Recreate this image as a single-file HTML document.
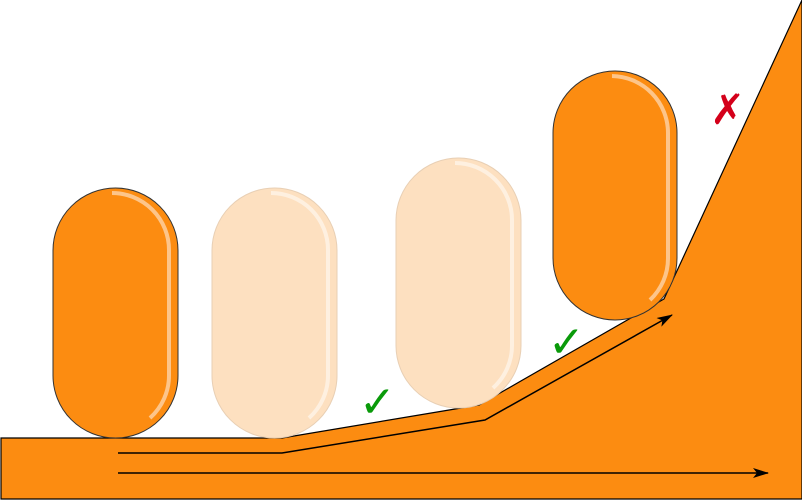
<!DOCTYPE html>
<html><head><meta charset="utf-8"><style>html,body{margin:0;padding:0;background:#fff}svg{display:block}</style></head>
<body>
<svg width="802" height="500" viewBox="0 0 802 500">
<defs>
<marker id="ah" markerWidth="16" markerHeight="10" refX="15" refY="5" orient="auto" markerUnits="userSpaceOnUse" viewBox="0 0 16 10">
<path d="M0,0 L16,5 L0,10 L4,5 Z" fill="#000"/></marker>
</defs>
<path d="M1,438 L282,438 L479,405 L664,299 L802,0 L802,499 L1,499 Z" fill="#fc8c11" stroke="#000" stroke-width="1.2"/>
<g>
<rect x="53" y="188" width="125" height="250" rx="62.5" fill="#fc8c11" stroke="#333" stroke-width="1"/>
<path d="M112,193 A57,57 0 0 1 169,250 L169,375 A57,57 0 0 1 150,418" fill="none" stroke="#fdc58a" stroke-width="4"/>
</g>
<g>
<rect x="212" y="188" width="125" height="250" rx="62.5" fill="#fde0c0" stroke="#e8cfb4" stroke-width="1"/>
<path d="M271,193 A57,57 0 0 1 328,250 L328,375 A57,57 0 0 1 309,418" fill="none" stroke="#fef0e0" stroke-width="4"/>
</g>
<g>
<rect x="396" y="158" width="125" height="250" rx="62.5" fill="#fde0c0" stroke="#e8cfb4" stroke-width="1"/>
<path d="M455,163 A57,57 0 0 1 512,220 L512,345 A57,57 0 0 1 493,388" fill="none" stroke="#fef0e0" stroke-width="4"/>
</g>
<g>
<rect x="553" y="71" width="124" height="249" rx="62" fill="#fc8c11" stroke="#333" stroke-width="1"/>
<path d="M612,76 A57,57 0 0 1 668,133 L668,258 A57,57 0 0 1 650,300" fill="none" stroke="#fdc58a" stroke-width="4"/>
</g>
<polyline points="118,453 282,453 485,420 672,315" fill="none" stroke="#000" stroke-width="1.5" marker-end="url(#ah)"/>
<line x1="118" y1="473" x2="768" y2="473" stroke="#000" stroke-width="1.5" marker-end="url(#ah)"/>
<text x="359" y="417" font-family="DejaVu Sans, sans-serif" font-size="44" font-weight="bold" fill="#0a9a0a">✓</text>
<text x="548" y="357" font-family="DejaVu Sans, sans-serif" font-size="44" font-weight="bold" fill="#0a9a0a">✓</text>
<text x="710" y="124" font-family="DejaVu Sans, sans-serif" font-size="42" font-weight="bold" fill="#d4001a">✗</text>
</svg>
</body></html>
